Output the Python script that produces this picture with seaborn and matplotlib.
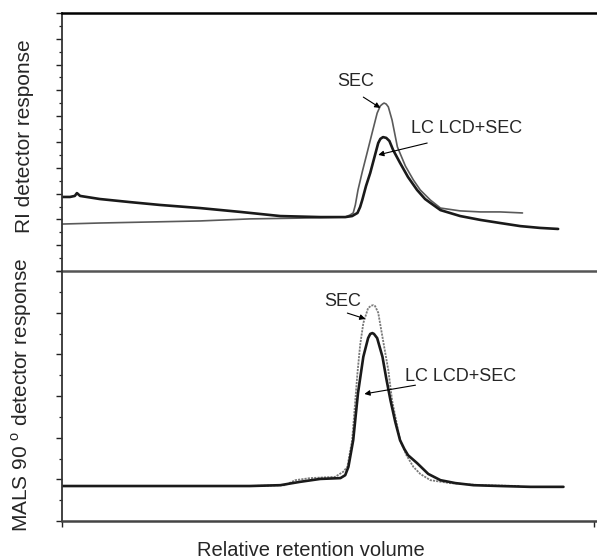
import matplotlib
matplotlib.use("Agg")
import matplotlib.pyplot as plt
from matplotlib.ticker import MultipleLocator, FixedLocator, NullFormatter
import pandas as pd
import seaborn as sns

# ---- RI detector traces (relative retention volume, response in tick units) ----
ri_lcd_x = [0.00, 0.15, 0.24, 0.28, 0.34, 0.71, 1.28, 1.84, 2.59, 3.35, 4.10, 4.85,
            5.32, 5.45, 5.55, 5.60, 5.64, 5.71, 5.79, 5.87, 5.94, 5.98, 6.03, 6.09,
            6.15, 6.22, 6.35, 6.50, 6.67, 6.82, 6.92, 7.11, 7.48, 7.86, 8.23, 8.61,
            8.98, 9.32]
ri_lcd_y = [2.87, 2.87, 2.91, 3.02, 2.91, 2.79, 2.67, 2.56, 2.44, 2.29, 2.13, 2.09,
            2.09, 2.13, 2.25, 2.48, 2.75, 3.29, 3.80, 4.42, 4.96, 5.12, 5.19, 5.16,
            5.04, 4.69, 4.19, 3.64, 3.14, 2.79, 2.64, 2.36, 2.13, 1.98, 1.86, 1.74,
            1.67, 1.63]

ri_sec_x = [0.00, 0.71, 1.65, 2.59, 3.53, 4.47, 5.32, 5.41, 5.47, 5.51, 5.56, 5.64,
            5.73, 5.83, 5.92, 5.98, 6.02, 6.05, 6.09, 6.13, 6.20, 6.30, 6.45, 6.60,
            6.73, 6.92, 7.11, 7.48, 7.86, 8.23, 8.65]
ri_sec_y = [1.82, 1.86, 1.90, 1.94, 2.02, 2.05, 2.09, 2.17, 2.25, 2.56, 3.14, 3.84,
            4.57, 5.39, 6.12, 6.40, 6.47, 6.51, 6.47, 6.36, 5.85, 4.81, 4.07, 3.53,
            3.14, 2.75, 2.44, 2.33, 2.29, 2.29, 2.25]

# ---- MALS 90 degree detector traces ----
mals_lcd_x = [0.00, 1.65, 3.53, 4.10, 4.47, 4.85, 5.23, 5.32, 5.38, 5.47, 5.56, 5.66,
              5.75, 5.79, 5.83, 5.86, 5.92, 6.02, 6.09, 6.17, 6.26, 6.35, 6.43, 6.50,
              6.67, 6.88, 7.11, 7.39, 7.73, 8.23, 8.80, 9.42]
mals_lcd_y = [0.84, 0.84, 0.84, 0.86, 0.94, 1.01, 1.03, 1.10, 1.30, 1.94, 3.07, 3.94,
              4.39, 4.49, 4.51, 4.49, 4.39, 3.94, 3.43, 2.90, 2.38, 1.94, 1.73, 1.58,
              1.39, 1.13, 0.98, 0.91, 0.86, 0.84, 0.82, 0.82]

mals_sec_x = [0.00, 1.65, 3.53, 4.19, 4.38, 4.66, 5.13, 5.28, 5.36, 5.45, 5.55, 5.60,
              5.66, 5.75, 5.81, 5.85, 5.88, 5.94, 6.03, 6.13, 6.20, 6.35, 6.47, 6.60,
              6.73, 6.92, 7.29, 7.86, 8.61]
mals_sec_y = [0.84, 0.84, 0.84, 0.86, 0.98, 1.03, 1.06, 1.18, 1.30, 1.94, 3.55, 4.22,
              4.75, 5.11, 5.17, 5.18, 5.16, 5.00, 4.34, 3.62, 2.90, 1.94, 1.58, 1.30,
              1.13, 0.98, 0.91, 0.86, 0.84]

sns.set_theme(style="white")
plt.rcParams["font.family"] = ["Liberation Sans", "DejaVu Sans"]
plt.rcParams["mathtext.fontset"] = "custom"
plt.rcParams["mathtext.rm"] = "Liberation Sans"

fig, (ax_ri, ax_ms) = plt.subplots(
    2, 1, figsize=(5.97, 5.6), dpi=100, sharex=True,
    gridspec_kw={"height_ratios": [258, 250], "hspace": 0})
fig.subplots_adjust(left=0.1039, right=1.0, top=0.9768, bottom=0.0696)

dark = "#1a1a1a"

ri_lcd = pd.DataFrame({"v": ri_lcd_x, "r": ri_lcd_y})
ri_sec = pd.DataFrame({"v": ri_sec_x, "r": ri_sec_y})
ms_lcd = pd.DataFrame({"v": mals_lcd_x, "r": mals_lcd_y})
ms_sec = pd.DataFrame({"v": mals_sec_x, "r": mals_sec_y})

sns.lineplot(data=ri_sec, x="v", y="r", ax=ax_ri, color="#5a5a5a", lw=1.2,
             sort=False, estimator=None)
sns.lineplot(data=ri_lcd, x="v", y="r", ax=ax_ri, color=dark, lw=1.9,
             sort=False, estimator=None)
sns.lineplot(data=ms_sec, x="v", y="r", ax=ax_ms, color="#7a7a7a", lw=1.3,
             ls=(0, (1.2, 0.6)), sort=False, estimator=None)
sns.lineplot(data=ms_lcd, x="v", y="r", ax=ax_ms, color=dark, lw=1.9,
             sort=False, estimator=None)

ax_ri.set_xlim(0, 10.05)
ax_ri.set_ylim(0, 10)
ax_ms.set_ylim(0, 6)

for ax in (ax_ri, ax_ms):
    ax.patch.set_visible(False)
    ax.yaxis.set_major_locator(MultipleLocator(1))
    ax.yaxis.set_minor_locator(MultipleLocator(0.5))
    ax.yaxis.set_major_formatter(NullFormatter())
    ax.tick_params(axis="y", which="major", direction="out", length=4,
                   width=1.0, color="#222222", left=True)
    ax.tick_params(axis="y", which="minor", direction="out", length=2.5,
                   width=0.9, color="#222222", left=True)
    ax.spines["right"].set_visible(False)
    ax.spines["left"].set_color("#333333")
    ax.spines["left"].set_linewidth(1.3)
    ax.set_xlabel("")
    ax.set_ylabel("")

ax_ri.spines["top"].set_color("black")
ax_ri.spines["top"].set_linewidth(1.8)
ax_ri.spines["bottom"].set_color("#555555")
ax_ri.spines["bottom"].set_linewidth(1.8)
ax_ri.tick_params(axis="x", which="both", bottom=False, labelbottom=False)

ax_ms.spines["top"].set_visible(False)
ax_ms.spines["bottom"].set_color("#444444")
ax_ms.spines["bottom"].set_linewidth(1.8)
ax_ms.xaxis.set_major_locator(FixedLocator([0, 10]))
ax_ms.xaxis.set_major_formatter(NullFormatter())
ax_ms.tick_params(axis="x", which="major", direction="out", length=4.5,
                  width=1.0, color="#222222", bottom=True)

ax_ri.set_ylabel("RI detector response", fontsize=15)
ax_ri.yaxis.set_label_coords(-0.052, 0.521)
ax_ms.set_ylabel("MALS 90 $^{\\mathrm{o}}$ detector response", fontsize=15)
ax_ms.yaxis.set_label_coords(-0.052, 0.505)
ax_ms.set_xlabel("Relative retention volume", fontsize=14.5)
ax_ms.xaxis.set_label_coords(0.4645, -0.08)

fs = 13
arrow = dict(arrowstyle="-|>", lw=0.8, color="black", mutation_scale=8,
             shrinkA=0, shrinkB=0)

# RI panel annotations
ax_ri.text(5.51, 7.33, "SEC", fontsize=fs, ha="center", va="center")
ax_ri.annotate("", xy=(5.98, 6.32), xytext=(5.66, 6.74), arrowprops=arrow)
ax_ri.text(6.56, 5.54, "LC LCD+SEC", fontsize=fs, ha="left", va="center")
ax_ri.annotate("", xy=(5.94, 4.50), xytext=(6.86, 4.96), arrowprops=arrow)

# MALS panel annotations
ax_ms.text(5.28, 5.26, "SEC", fontsize=fs, ha="center", va="center")
ax_ms.annotate("", xy=(5.70, 4.85), xytext=(5.36, 4.99), arrowprops=arrow)
ax_ms.text(6.45, 3.48, "LC LCD+SEC", fontsize=fs, ha="left", va="center")
ax_ms.annotate("", xy=(5.68, 3.05), xytext=(6.64, 3.26), arrowprops=arrow)

fig.savefig("out.png", dpi=100)
